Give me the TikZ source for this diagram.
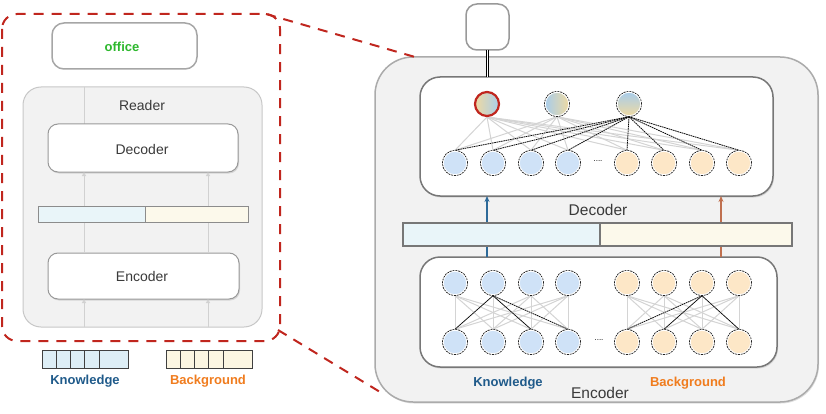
\documentclass[tikz,border=0pt]{standalone}
\usepackage{fontspec}
\setmainfont{Liberation Sans}
\usetikzlibrary{arrows.meta,shadows,calc}
\pgfdeclarelayer{bg}
\pgfdeclarelayer{mid}
\pgfsetlayers{bg,mid,main}
\definecolor{cblue}{HTML}{CFE2F7}
\definecolor{corange}{HTML}{FDE7C7}
\definecolor{redline}{HTML}{C0261E}
\definecolor{kblue}{HTML}{1F5A8A}
\definecolor{borange}{HTML}{F07C1E}
\definecolor{offgreen}{HTML}{2DB82D}
\definecolor{panel}{HTML}{F2F2F2}
\definecolor{panelline}{HTML}{ABABAB}
\definecolor{boxline}{HTML}{777777}
\definecolor{barblue}{HTML}{E9F5F9}
\definecolor{barcream}{HTML}{FCF9EB}
\definecolor{tokblue}{HTML}{DDEEF6}
\definecolor{tokcream}{HTML}{FCF6E2}
\definecolor{arrblue}{HTML}{2E6A99}
\definecolor{arrbrown}{HTML}{C0704F}
\definecolor{edgegray}{HTML}{D4D4D4}
\definecolor{txt}{HTML}{3A3A3A}
\definecolor{gyel}{HTML}{EED9A2}
\definecolor{gblu}{HTML}{A9CDEA}
\begin{document}
\begin{tikzpicture}[x=1pt,y=-1pt,
 rbox/.style={rectangle, rounded corners=#1, inner sep=0, outer sep=0},
 sh/.style={drop shadow={shadow xshift=1pt, shadow yshift=-1.5pt, opacity=0.25}},
 lbl/.style={font=\fontsize{14}{16}\selectfont, text=txt, inner sep=0},
 rlbl/.style={font=\fontsize{15.5}{17}\selectfont, text=txt, inner sep=0},
 blbl/.style={font=\fontsize{13}{15}\selectfont\bfseries, inner sep=0},
 circ/.style={circle, minimum size=23.5pt, inner sep=0, outer sep=1pt, fill=#1, draw=white, line width=0.9pt, preaction={draw=black, line width=2.4pt, dash pattern=on 1.8pt off 0.9pt}},
 gedge/.style={draw=edgegray, line width=1pt},
 bedge/.style={draw=black, line width=0.7pt, dash pattern=on 1.5pt off 0.8pt},
 sedge/.style={draw=black, line width=0.6pt},
 lline/.style={draw=black!18, line width=1pt},
 larr/.style={lline, -{Triangle[open, length=4pt, width=4pt]}},
 tok/.style={rectangle, draw=black!75, line width=1pt, minimum height=18pt, inner sep=0, outer sep=0},
 reddash/.style={draw=redline, line width=2pt, dash pattern=on 10pt off 8pt},
]
\useasboundingbox (0,0) rectangle (826,414);

% ---------------- Left panel ----------------
\begin{pgfonlayer}{bg}
\node[rbox=18, fill=panel, draw=black!22, line width=1pt, minimum width=239pt, minimum height=240pt] (reader) at (142.5,207) {};
\node[rbox=12, fill=white, draw=black!35, line width=1.5pt, minimum width=145pt, minimum height=46pt] (office) at (124.5,46) {};
\node[rbox=38, fill=panel, draw=panelline, line width=1.5pt, minimum width=443pt, minimum height=345pt, sh] (big) at (596.5,229.5) {};
\node[rbox=11, fill=white, draw=black!40, line width=1.5pt, minimum width=43pt, minimum height=46pt] (topbox) at (487.5,27) {};
\end{pgfonlayer}

\node[lbl] (readerlbl) at (142,105) {Reader};
\node[blbl, text=offgreen] (officelbl) at (122,47) {office};

\coordinate (la) at (84,0);
\coordinate (lb) at (208,0);
\begin{pgfonlayer}{mid}
\draw[lline] (la |- reader.north) -- (la |- 0,124);
\end{pgfonlayer}

\node[rbox=10, fill=white, draw=black!40, line width=1pt, minimum width=190pt, minimum height=48pt, sh] (ldec) at (143,148) {};
\node[lbl] (ldeclbl) at (142,149) {Decoder};
\node[rbox=10, fill=white, draw=black!40, line width=1pt, minimum width=191pt, minimum height=46pt, sh] (lenc) at (143.5,276) {};
\node[lbl] (lenclbl) at (142,276) {Encoder};

\draw[larr] (la |- reader.south) -- (la |- lenc.south);
\draw[larr] (lb |- reader.south) -- (lb |- lenc.south);
\draw[larr] (la |- lenc.north) -- (la |- ldec.south);
\draw[larr] (lb |- lenc.north) -- (lb |- ldec.south);

\node[rectangle, fill=barblue, draw=black!45, line width=1pt, minimum width=107pt, minimum height=16pt, inner sep=0] (lbar1) at (91.5,214) {};
\node[rectangle, fill=barcream, draw=black!45, line width=1pt, minimum width=103pt, minimum height=16pt, inner sep=0] (lbar2) at (196.5,214) {};

\node[rbox=15, draw=none, minimum width=278pt, minimum height=327pt] (red) at (141,177.5) {};
\draw[reddash, rounded corners=15] (red.north west) rectangle (red.south east);
\coordinate (rA) at (415,57);
\coordinate (rB) at (385,395);
\draw[reddash] ($(red.north east)+(-14,0)$) -- (rA);
\draw[reddash] ($(red.south east)+(-2,-11)$) -- (rB);

% tokens
\node[tok, fill=tokblue, minimum width=14pt] (k1) at (49,359) {};
\node[tok, fill=tokblue, minimum width=14pt] (k2) at (63,359) {};
\node[tok, fill=tokblue, minimum width=14pt] (k3) at (77,359) {};
\node[tok, fill=tokblue, minimum width=15pt] (k4) at (91.5,359) {};
\node[tok, fill=tokblue, minimum width=29pt] (k5) at (113.5,359) {};
\node[tok, fill=tokcream, minimum width=14pt] (b1) at (173,359) {};
\node[tok, fill=tokcream, minimum width=14pt] (b2) at (187,359) {};
\node[tok, fill=tokcream, minimum width=14pt] (b3) at (201,359) {};
\node[tok, fill=tokcream, minimum width=15pt] (b4) at (215.5,359) {};
\node[tok, fill=tokcream, minimum width=29pt] (b5) at (237.5,359) {};
\node[blbl, text=kblue] (lknow) at (85,381) {Knowledge};
\node[blbl, text=borange] (lback) at (208,381) {Background};

% ---------------- Right panel ----------------
\begin{pgfonlayer}{bg}
\node[rbox=20, fill=white, draw=boxline, line width=1.5pt, minimum width=353pt, minimum height=119pt, sh] (rdec) at (596.5,136.5) {};
\node[rbox=20, fill=white, draw=boxline, line width=1.5pt, minimum width=357pt, minimum height=110pt, sh] (renc) at (598.5,312) {};
\end{pgfonlayer}

\draw[black, double=white, double distance=1.4pt, line width=0.6pt] (topbox.south) -- (topbox.south |- rdec.north);

\coordinate (ka) at (487,0);
\coordinate (kb) at (721,0);
\draw[arrblue, line width=1.5pt, -{Stealth[length=6pt, width=5pt]}] (ka |- renc.north) -- (ka |- rdec.south);
\draw[arrbrown, line width=1.5pt, -{Stealth[length=6pt, width=5pt]}] (kb |- renc.north) -- (kb |- rdec.south);

\node[rectangle, fill=barblue, draw=boxline, line width=1.5pt, minimum width=197pt, minimum height=23pt, inner sep=0] (rbar1) at (501.5,234.5) {};
\node[rectangle, fill=barcream, draw=boxline, line width=1.5pt, minimum width=192pt, minimum height=23pt, inner sep=0] (rbar2) at (696,234.5) {};

\node[rlbl] (rdeclbl) at (598,210) {Decoder};
\node[blbl, text=kblue] (rknow) at (508,383) {Knowledge};
\node[blbl, text=borange] (rback) at (688,383) {Background};
\node[rlbl] (renclbl) at (600,393) {Encoder};

% decoder nodes
\node[circle, minimum size=24pt, inner sep=0, outer sep=1pt, draw=redline, line width=2.2pt, left color=gyel, right color=gblu] (d1) at (487,104) {};
\node[circ=white, left color=gblu, right color=gyel] (d2) at (557,104) {};
\node[circ=white, top color=gblu, bottom color=gyel] (d3) at (629,104) {};
\foreach \x [count=\i] in {455,493,531,568} \node[circ=cblue] (db\i) at (\x,163) {};
\foreach \x [count=\i from 5] in {627,664,702,739} \node[circ=corange] (db\i) at (\x,163) {};
\node[font=\fontsize{8}{8}\selectfont, inner sep=0] (ddots) at (598,161) {....};

\begin{pgfonlayer}{mid}
\foreach \i in {1,2,3} \foreach \j in {1,...,8} \draw[gedge] (d\i.south) -- (db\j.north);
\foreach \j in {1,...,8} \draw[bedge] (d3.south) -- (db\j.north);
\end{pgfonlayer}

% encoder nodes
\foreach \x [count=\i] in {455,493,531,568} {\node[circ=cblue] (et\i) at (\x,283) {}; \node[circ=cblue] (eb\i) at (\x,342) {};}
\foreach \x [count=\i from 5] in {627,664,702,739} {\node[circ=corange] (et\i) at (\x,283) {}; \node[circ=corange] (eb\i) at (\x,342) {};}
\node[font=\fontsize{8}{8}\selectfont, inner sep=0] (edots) at (599,340) {....};

\begin{pgfonlayer}{mid}
\foreach \i in {1,...,4} \foreach \j in {1,...,4} \draw[gedge] (et\i.south) -- (eb\j.north);
\foreach \i in {5,...,8} \foreach \j in {5,...,8} \draw[gedge] (et\i.south) -- (eb\j.north);
\draw[sedge] (et2.south) -- (eb1.north);
\draw[sedge] (et2.south) -- (eb3.north);
\draw[bedge] (et2.south) -- (eb4.north);
\draw[bedge] (et7.south) -- (eb5.north);
\draw[sedge] (et7.south) -- (eb6.north);
\draw[sedge] (et7.south) -- (eb8.north);
\end{pgfonlayer}
\end{tikzpicture}
\end{document}
